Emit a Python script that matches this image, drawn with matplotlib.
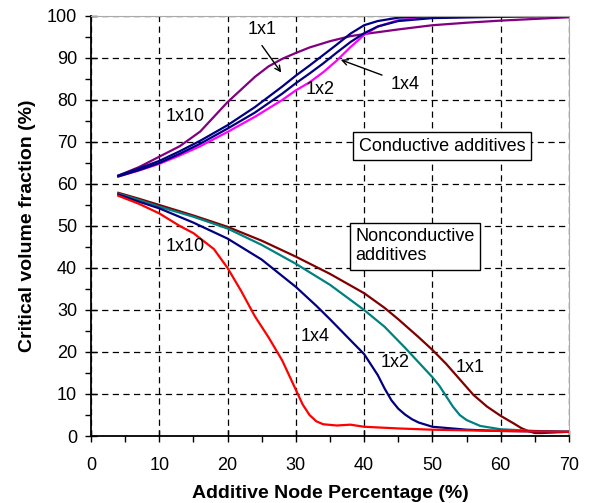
import matplotlib
matplotlib.use("Agg")
import matplotlib.pyplot as plt
from matplotlib.ticker import MultipleLocator

plt.rcParams["font.family"] = ["Liberation Sans", "DejaVu Sans"]

# conductive additives (upper group)
c_1x10_x = [4, 7, 10, 13, 16, 18, 20, 22, 24, 26, 28, 30, 32, 35, 38, 40, 45, 50, 55, 60, 65, 70]
c_1x10_y = [62, 64, 66.5, 69, 72.5, 76, 79.5, 82.5, 85.5, 88, 89.8, 91.2, 92.5, 94, 95.2, 95.7, 96.8, 97.8, 98.4, 98.9, 99.3, 99.7]
c_1x1_x = [4, 7, 10, 13, 16, 20, 24, 28, 30, 32, 34, 36, 38, 40, 42, 45, 50, 60, 70]
c_1x1_y = [62, 63.7, 65.5, 67.8, 70.3, 74, 78.3, 83.2, 85.8, 88.2, 90.7, 93.2, 95.8, 97.8, 98.8, 99.6, 100, 100, 100]
c_1x4_x = [4, 7, 10, 13, 16, 20, 24, 28, 30, 32, 34, 36, 38, 40, 42, 45, 50, 60, 70]
c_1x4_y = [61.8, 63.3, 65, 67.2, 69.6, 73.2, 77, 81.5, 84, 86.3, 88.7, 91.3, 93.8, 95.9, 97.5, 98.8, 99.5, 99.8, 100]
c_1x2_x = [4, 7, 10, 13, 16, 20, 24, 28, 30, 32, 34, 36, 38, 40, 42, 45, 50, 60, 65]
c_1x2_y = [61.8, 63.2, 64.8, 66.8, 69, 72.4, 76, 80, 82.3, 84.2, 86.6, 89.4, 92.6, 95.5, 97.5, 99, 99.8, 100, 100]

# nonconductive additives (lower group)
n_1x1_x = [4, 7, 10, 15, 20, 25, 30, 35, 40, 43, 45, 48, 50, 52, 54, 56, 58, 60, 62, 63, 64, 65, 66, 70]
n_1x1_y = [57.9, 56.5, 55, 52.5, 49.8, 46.5, 42.7, 38.6, 34, 30.5, 27.8, 23.5, 20.5, 17.2, 13.5, 9.8, 7, 4.8, 2.9, 1.9, 1.2, 0.7, 0.7, 1.0]
n_1x2_x = [4, 7, 10, 15, 20, 25, 30, 35, 40, 43, 46, 48, 50, 51, 52, 53, 54, 55, 57, 60, 65, 70]
n_1x2_y = [57.7, 56.2, 54.6, 52.2, 49.4, 45.5, 41, 36, 30, 26, 21, 17.5, 14, 12, 9.5, 7, 5, 3.8, 2.4, 1.6, 1.2, 1.0]
n_1x4_x = [4, 7, 10, 15, 20, 25, 30, 33, 35, 38, 40, 41, 42, 43, 44, 45, 46, 47, 48, 50, 55, 60, 70]
n_1x4_y = [57.5, 55.8, 54.2, 50.8, 47, 42, 35.5, 31, 27.8, 22.8, 19.5, 17, 14.5, 11.3, 8.5, 6.5, 5.1, 4, 3.2, 2.2, 1.5, 1.2, 1.0]
n_1x10_x = [4, 7, 10, 13, 15, 18, 20, 22, 24, 26, 28, 30, 31, 32, 33, 34, 36, 38, 40, 45, 50, 60, 70]
n_1x10_y = [57.2, 55.3, 53, 50, 48.3, 44.5, 40, 34.5, 28.5, 23.5, 18, 11, 7.5, 5, 3.5, 2.8, 2.5, 2.7, 2.2, 1.8, 1.5, 1.2, 1.0]

fig = plt.figure(figsize=(5.89, 5.03), dpi=100)
ax = fig.add_axes([0.1545, 0.1332, 0.8115, 0.835])

lw = 1.6
ax.plot(c_1x10_x, c_1x10_y, color="#800080", lw=lw)
ax.plot(c_1x2_x, c_1x2_y, color="#ff00ff", lw=lw)
ax.plot(c_1x4_x, c_1x4_y, color="#000080", lw=lw)
ax.plot(c_1x1_x, c_1x1_y, color="#000080", lw=lw)

ax.plot(n_1x1_x, n_1x1_y, color="#800000", lw=lw)
ax.plot(n_1x2_x, n_1x2_y, color="#008080", lw=lw)
ax.plot(n_1x4_x, n_1x4_y, color="#000080", lw=lw)
ax.plot(n_1x10_x, n_1x10_y, color="#ff0000", lw=lw)

ax.set_xlim(0, 70)
ax.set_ylim(0, 100)
ax.xaxis.set_major_locator(MultipleLocator(10))
ax.xaxis.set_minor_locator(MultipleLocator(5))
ax.yaxis.set_major_locator(MultipleLocator(10))
ax.yaxis.set_minor_locator(MultipleLocator(5))
ax.tick_params(which="major", direction="inout", length=8, width=1, labelsize=13, pad=6)
ax.tick_params(axis="x", which="major", pad=11)
ax.tick_params(which="minor", direction="out", length=4, width=1)
ax.grid(True, which="major", color="black", linestyle=(0, (5, 3.5)), linewidth=0.9)
ax.set_axisbelow(True)

for s in ["left", "bottom"]:
    ax.spines[s].set_linewidth(1.3)
for s in ["top", "right"]:
    ax.spines[s].set_color("#aaaaaa")

ax.set_xlabel("Additive Node Percentage (%)", fontsize=14, fontweight="bold", labelpad=8)
ax.set_ylabel("Critical volume fraction (%)", fontsize=14, fontweight="bold", labelpad=8)

fs = 13
ax.text(25, 96.7, "1x1", fontsize=fs, ha="center", va="center")
ax.annotate("", xy=(28.1, 86), xytext=(24.8, 93.5),
            arrowprops=dict(arrowstyle="->", color="black", lw=1))
ax.text(33.5, 82.4, "1x2", fontsize=fs, ha="center", va="center")
ax.text(46, 83.6, "1x4", fontsize=fs, ha="center", va="center")
ax.annotate("", xy=(36.2, 89.8), xytext=(43, 85.7),
            arrowprops=dict(arrowstyle="->", color="black", lw=1))
ax.text(13.8, 76, "1x10", fontsize=fs, ha="center", va="center")

ax.text(13.8, 45, "1x10", fontsize=fs, ha="center", va="center")
ax.text(32.8, 23.8, "1x4", fontsize=fs, ha="center", va="center")
ax.text(44.5, 17.5, "1x2", fontsize=fs, ha="center", va="center")
ax.text(55.5, 16.2, "1x1", fontsize=fs, ha="center", va="center")

box = dict(boxstyle="square,pad=0.3", facecolor="white", edgecolor="black", linewidth=1)
ax.text(51.4, 69.0, "Conductive additives", fontsize=fs, ha="center", va="center", bbox=box)
ax.text(38.7, 45.2, "Nonconductive\nadditives", fontsize=fs, ha="left", va="center",
        linespacing=1.15, bbox=box)

fig.savefig("out.png", dpi=100)
